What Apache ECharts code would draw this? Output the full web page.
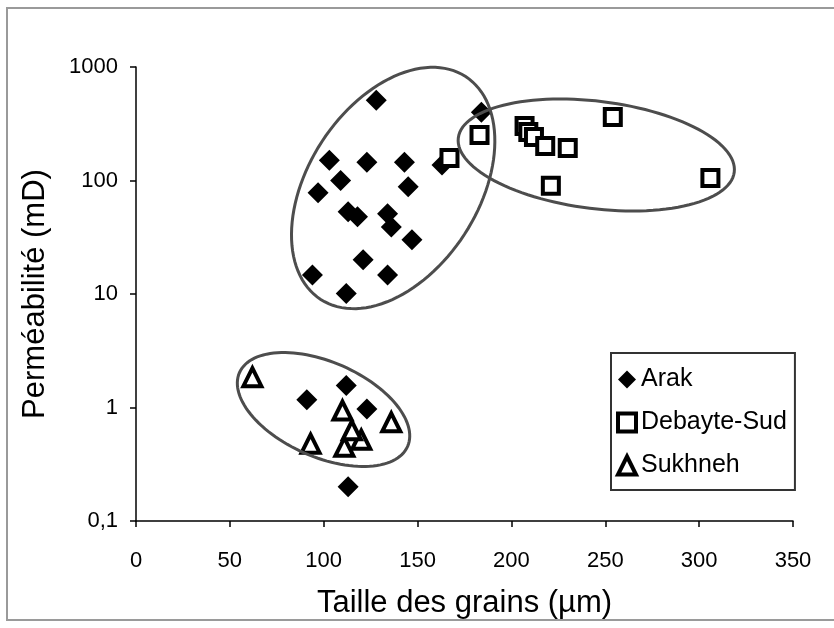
<!DOCTYPE html>
<html>
<head>
<meta charset="utf-8">
<script src="https://cdn.jsdelivr.net/npm/echarts@6/dist/echarts.min.js"></script>
<style>
  html, body { margin: 0; padding: 0; background: #fff; }
  #chart { width: 834px; height: 628px; }
</style>
</head>
<body>
<div id="chart"></div>
<script>
// Grain size (µm) vs permeability (mD) for three wells
const arakSize = [128, 184, 103, 123, 143, 163, 109, 97, 145, 113, 118, 134, 136, 147, 121, 134, 94, 112, 91, 112, 123, 113];
const arakPerm = [510, 400, 151, 145, 145, 137, 100, 78, 88, 53, 48, 51, 39, 30, 20, 14.7, 14.7, 10.1, 1.17, 1.56, 0.97, 0.2];

const debSize = [167, 183, 207, 209, 212, 218, 230, 221, 254, 306];
const debPerm = [158, 252, 302, 267, 242, 201, 193, 90, 362, 105];

const sukSize = [62, 110, 136, 93, 111, 120, 115];
const sukPerm = [1.85, 0.94, 0.74, 0.48, 0.45, 0.52, 0.63];

// Group outlines: centre, end of first semi-axis, end of second semi-axis (data units)
const groupCentre = [[137.0, 85.9], [245.2, 167.8], [99.9, 0.96]];
const groupAxisA  = [[175.6, 824], [318.7, 118.6], [144.7, 0.455]];
const groupAxisB  = [[175.0, 33.6], [241.7, 56.9], [89.8, 0.397]];

const xTicks = { min: 0, max: 350, interval: 50 };
const yTicks = { min: 0.1, max: 1000 };

const zip = (xs, ys) => xs.map((x, i) => [x, ys[i]]);
const outlineData = groupCentre.map((c, i) => [c[0], c[1], groupAxisA[i][0], groupAxisA[i][1], groupAxisB[i][0], groupAxisB[i][1]]);

const FONT = "'Liberation Sans', Arial, sans-serif";
const NARROW = "'Liberation Sans Narrow', 'Arial Narrow', 'Liberation Sans', sans-serif";

const chart = echarts.init(document.getElementById('chart'), null, { renderer: 'canvas' });

chart.setOption({
  backgroundColor: '#fff',
  animation: false,
  textStyle: { fontFamily: FONT },
  graphic: [{
    type: 'rect',
    shape: { x: 7, y: 8, width: 840, height: 612 },
    style: { fill: 'none', stroke: '#9a9a9a', lineWidth: 2 },
    z: -1
  }],
  grid: { left: 136, right: 41, top: 67, bottom: 107, containLabel: false },
  xAxis: {
    type: 'value',
    min: xTicks.min, max: xTicks.max, interval: xTicks.interval,
    name: 'Taille des grains (µm)',
    nameLocation: 'middle', nameGap: 67,
    nameTextStyle: { color: '#000', fontSize: 31, fontFamily: FONT },
    axisLine: { show: true, onZero: false, lineStyle: { color: '#000', width: 1.5 } },
    axisTick: { show: true, inside: false, length: 6, lineStyle: { color: '#000', width: 1.5 } },
    axisLabel: { color: '#000', fontSize: 22, margin: 29, fontFamily: NARROW },
    splitLine: { show: false }
  },
  yAxis: {
    type: 'log', logBase: 10,
    min: yTicks.min, max: yTicks.max,
    name: 'Perméabilité (mD)',
    nameLocation: 'middle', nameGap: 85, nameRotate: 90,
    nameTextStyle: { color: '#000', fontSize: 31, fontFamily: FONT },
    axisLine: { show: true, lineStyle: { color: '#000', width: 1.5 } },
    axisTick: { show: true, inside: false, length: 6, lineStyle: { color: '#000', width: 1.5 } },
    axisLabel: {
      color: '#000', fontSize: 22, margin: 18, fontFamily: NARROW,
      formatter: v => String(v).replace('.', ',')
    },
    splitLine: { show: false },
    minorTick: { show: false }
  },
  legend: {
    orient: 'vertical',
    left: 611, top: 353,
    padding: [14, 8, 12, 5],
    itemGap: 18,
    itemWidth: 18, itemHeight: 18,
    backgroundColor: '#fff',
    borderColor: '#333', borderWidth: 2,
    textStyle: { color: '#000', fontSize: 25, fontFamily: FONT },
    data: [
      { name: 'Arak', icon: 'diamond', itemStyle: { color: '#000', borderWidth: 0 } },
      { name: 'Debayte-Sud', icon: 'rect', itemStyle: { color: '#fff', borderColor: '#000', borderWidth: 4 } },
      { name: 'Sukhneh', icon: 'triangle', itemStyle: { color: '#fff', borderColor: '#000', borderWidth: 4 } }
    ]
  },
  series: [
    {
      name: 'Arak', type: 'scatter',
      symbol: 'diamond', symbolSize: 21,
      itemStyle: { color: '#000', opacity: 1 },
      data: zip(arakSize, arakPerm), z: 3
    },
    {
      name: 'Debayte-Sud', type: 'scatter',
      symbol: 'rect', symbolSize: 16,
      itemStyle: { color: '#fff', borderColor: '#000', borderWidth: 4, opacity: 1 },
      data: zip(debSize, debPerm), z: 4
    },
    {
      name: 'Sukhneh', type: 'scatter',
      symbol: 'triangle', symbolSize: 18,
      itemStyle: { color: '#fff', borderColor: '#000', borderWidth: 4, opacity: 1 },
      data: zip(sukSize, sukPerm), z: 5
    },
    {
      type: 'custom', silent: true, z: 6,
      encode: { x: [0, 2, 4], y: [1, 3, 5] },
      data: outlineData,
      renderItem: (params, api) => {
        const c = api.coord([api.value(0), api.value(1)]);
        const a = api.coord([api.value(2), api.value(3)]);
        const b = api.coord([api.value(4), api.value(5)]);
        const ux = a[0] - c[0], uy = a[1] - c[1];
        const vx = b[0] - c[0], vy = b[1] - c[1];
        const pts = [];
        const n = 120;
        for (let k = 0; k < n; k++) {
          const t = (k / n) * Math.PI * 2;
          pts.push([c[0] + Math.cos(t) * ux + Math.sin(t) * vx, c[1] + Math.cos(t) * uy + Math.sin(t) * vy]);
        }
        return {
          type: 'polygon',
          shape: { points: pts },
          style: { fill: 'none', stroke: '#4d4d4d', lineWidth: 3 }
        };
      }
    }
  ]
});
</script>
</body>
</html>
